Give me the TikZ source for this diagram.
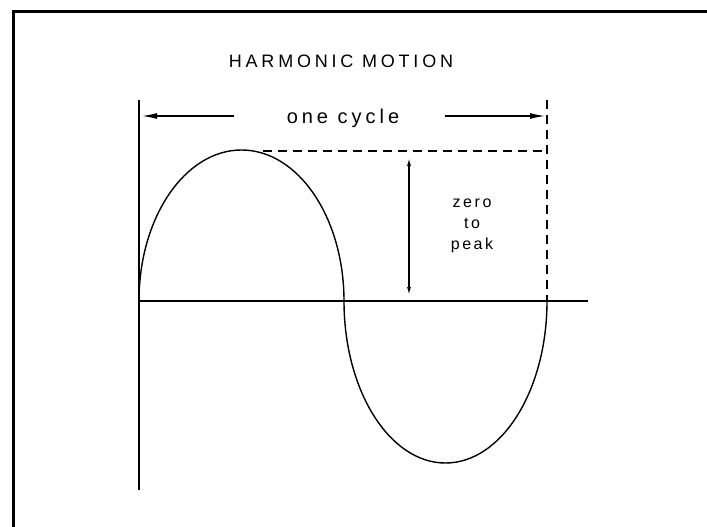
\documentclass[tikz,border=0pt]{standalone}
\usepackage{fontspec}
\setmainfont{Liberation Sans}
\usetikzlibrary{arrows.meta}

\begin{document}
\begin{tikzpicture}[x=1pt,y=-1pt,
  line width=1.3pt,
  frame/.style={line width=3pt},
  wave/.style={line width=1.4pt},
  guide/.style={line width=1.3pt,dash pattern=on 9pt off 6pt},
  arr/.style={-{Latex[length=15pt,width=6pt]},line width=1.3pt},
  darr/.style={{Latex[length=8pt,width=4pt]}-{Latex[length=8pt,width=4pt]},line width=1.3pt},
  title/.style={anchor=base,inner sep=0pt,font=\fontsize{18}{20}\selectfont\addfontfeatures{LetterSpace=21}},
  lbl/.style={anchor=base,inner sep=0pt,font=\fontsize{20}{22}\selectfont\addfontfeatures{LetterSpace=20}},
  small/.style={anchor=base,inner sep=0pt,align=center,font=\fontsize{16}{21}\selectfont\addfontfeatures{LetterSpace=16}}]
  \useasboundingbox (0,0) rectangle (707,527);
  \draw[frame] (707,12) -- (13,12) -- (13,527);

  % axes and guides
  \coordinate (top) at (139,100);
  \coordinate (o) at (139,301);
  \coordinate (bot) at (139,490);
  \coordinate (xend) at (588,301);
  \coordinate (pk) at (263,151);
  \coordinate (dtop) at (547,100);
  \coordinate (dpk) at (547,151);
  \coordinate (dend) at (547,301);
  \draw (top) -- (bot);
  \draw (o) -- (xend);
  \draw[guide] (dtop) -- (dend);
  \draw[guide] (pk) -- (dpk);

  % the wave
  \draw[wave] (o) arc[start angle=180,end angle=360,x radius=102.5,y radius=151]
    arc[start angle=180,end angle=0,x radius=101.5,y radius=162];

  % labels
  \node[title] (head) at (341,68) {HARMONIC MOTION};
  \node[lbl] (cycle) at (343,123) {one cycle};
  \node[small] (zp) at (472,249) {zero\\to\\peak};

  \coordinate (cl) at (234,116);
  \coordinate (tl) at (142,116);
  \coordinate (cr) at (445,116);
  \coordinate (tr) at (545,116);
  \draw[arr] (cl) -- (tl);
  \draw[arr] (cr) -- (tr);

  \coordinate (za) at (409,158);
  \coordinate (zb) at (409,295);
  \draw[darr] (za) -- (zb);
\end{tikzpicture}
\end{document}
